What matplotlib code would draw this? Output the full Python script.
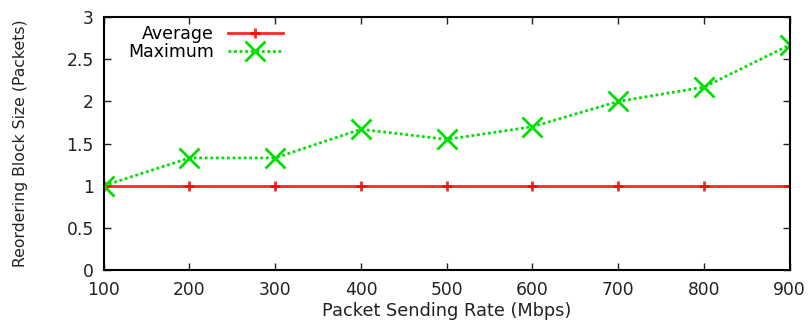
import matplotlib
matplotlib.use("Agg")
import matplotlib.pyplot as plt

rates = [100, 200, 300, 400, 500, 600, 700, 800, 900]
average = [1, 1, 1, 1, 1, 1, 1, 1, 1]
maximum = [1.0, 1.33, 1.33, 1.67, 1.55, 1.70, 2.0, 2.17, 2.67]
yticks = [0, 0.5, 1, 1.5, 2, 2.5, 3]
ytick_labels = ["0", "0.5", "1", "1.5", "2", "2.5", "3"]

plt.rcParams['font.family'] = ['DejaVu Sans']
fig = plt.figure(figsize=(8.1, 3.22), dpi=100)
ax = fig.add_axes([0.128, 0.161, 0.847, 0.786])

ax.plot(rates, average, color='#ff0000', lw=2, marker='+', ms=7, mew=2, label='Average', alpha=0.85)
ax.plot(rates, maximum, color='#00e000', lw=2, ls=(0, (1, 1)), marker='x', ms=14, mew=2, label='Maximum')

ax.set_xlim(100, 900)
ax.set_ylim(0, 3)
ax.set_xticks(rates)
ax.set_yticks(yticks)
ax.set_yticklabels(ytick_labels)
ax.tick_params(direction='in', top=True, right=True, labelsize=12.3, length=5, width=1, colors='#222222')
ax.tick_params(axis='x', pad=8)
ax.tick_params(axis='y', pad=7)
for s in ax.spines.values():
    s.set_linewidth(1.5)
ax.set_xlabel('Packet Sending Rate (Mbps)', fontsize=12.8, labelpad=2, color='#222222')
ax.set_ylabel('Reordering Block Size (Packets)', fontsize=11.3, color='#222222')
ax.yaxis.set_label_coords(-0.11, 0.5)

leg = ax.legend(loc='upper left', markerfirst=False, frameon=False, fontsize=12.5,
                handlelength=3.2, borderaxespad=0.2, labelspacing=0.0, bbox_to_anchor=(0.02, 1.01))
fig.savefig('out.png', dpi=100)
